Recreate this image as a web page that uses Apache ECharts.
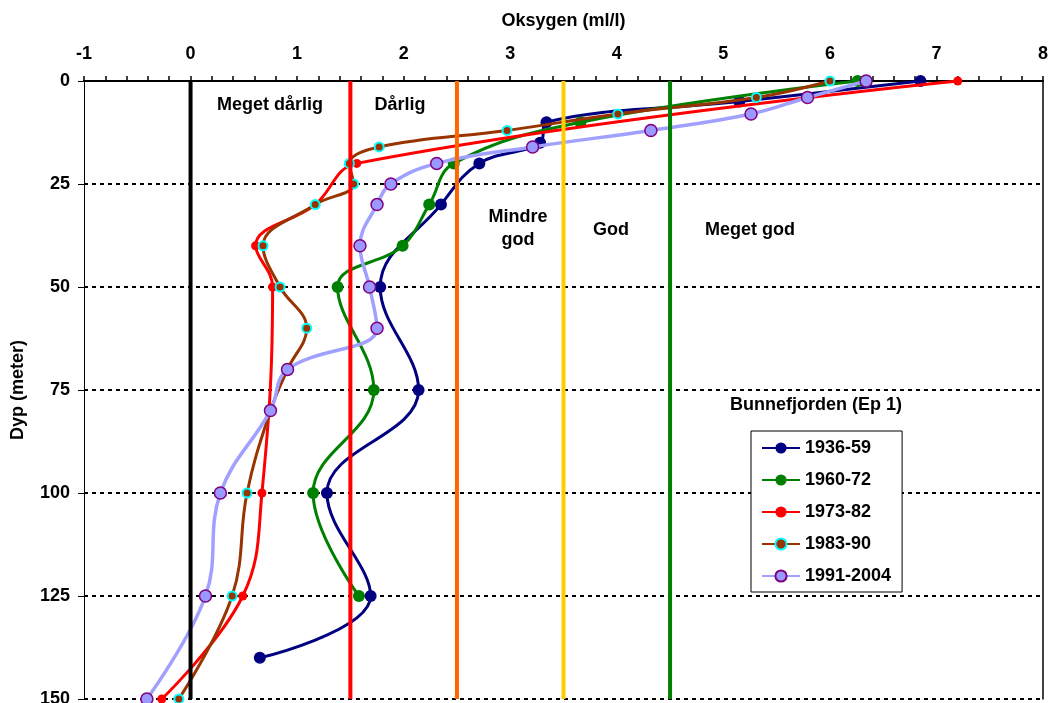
<!DOCTYPE html>
<html>
<head>
<meta charset="utf-8">
<script src="https://cdn.jsdelivr.net/npm/echarts@6/dist/echarts.min.js"></script>
<style>
html,body{margin:0;padding:0;background:#fff;}
#chart{width:1059px;height:703px;}
</style>
</head>
<body>
<div id="chart"></div>
<script>
// ---- data ----
const seriesNames = ['1936-59', '1960-72', '1973-82', '1983-90', '1991-2004'];

const depth1936 = [0, 5, 10, 15, 20, 30, 50, 75, 100, 125, 140];
const oxy1936   = [6.85, 5.15, 3.34, 3.28, 2.71, 2.35, 1.78, 2.14, 1.28, 1.69, 0.65];

const depth1960 = [0, 10, 20, 30, 40, 50, 75, 100, 125];
const oxy1960   = [6.26, 3.66, 2.47, 2.24, 1.99, 1.38, 1.72, 1.15, 1.58];

const depth1973 = [0, 20, 30, 40, 50, 100, 125, 150];
const oxy1973   = [7.2, 1.56, 1.17, 0.61, 0.77, 0.67, 0.49, -0.27];

const depth1983 = [0, 4, 8, 12, 16, 20, 25, 30, 40, 50, 60, 70, 80, 100, 125, 150];
const oxy1983   = [6.0, 5.31, 4.01, 2.97, 1.77, 1.49, 1.53, 1.17, 0.68, 0.84, 1.09, 0.91, 0.75, 0.53, 0.39, -0.11];

const depth1991 = [0, 4, 8, 12, 16, 20, 25, 30, 40, 50, 60, 70, 80, 100, 125, 150];
const oxy1991   = [6.34, 5.79, 5.26, 4.32, 3.21, 2.31, 1.88, 1.75, 1.59, 1.68, 1.75, 0.91, 0.75, 0.28, 0.14, -0.41];

// class boundaries (vertical lines)
const thresholds = [0, 1.5, 2.5, 3.5, 4.5];
const thresholdColors = ['#000000', '#FF0000', '#FF6600', '#FFCC00', '#008000'];
const depthRange = [0, 150];

const xTicks = { min: -1, max: 8, interval: 1 };
const yTicks = { min: 0, max: 150, interval: 25 };

// ---- build ----
const FONT = "'Liberation Sans', Arial, sans-serif";
function pairs(xs, ds) { return xs.map((v, i) => [v, ds[i]]); }

const styles = [
  { color: '#000080', size: 12, border: '#000080', bw: 0, lw: 3 },
  { color: '#008000', size: 12, border: '#008000', bw: 0, lw: 3 },
  { color: '#FF0000', size: 9, border: '#FF0000', bw: 0, lw: 3 },
  { color: '#993300', size: 9, border: '#00FFFF', bw: 2, lw: 3 },
  { color: '#9999FF', size: 12, border: '#800080', bw: 1.5, lw: 3.5, line: '#A0A0FF' }
];
const allData = [
  pairs(oxy1936, depth1936),
  pairs(oxy1960, depth1960),
  pairs(oxy1973, depth1973),
  pairs(oxy1983, depth1983),
  pairs(oxy1991, depth1991)
];

const dataSeries = seriesNames.map((name, i) => ({
  name: name,
  type: 'line',
  data: allData[i],
  smooth: 0.4,
  symbol: 'circle',
  symbolSize: styles[i].size,
  showAllSymbol: true,
  z: 3 + i,
  lineStyle: { color: styles[i].line || styles[i].color, width: styles[i].lw },
  itemStyle: { color: styles[i].color, borderColor: styles[i].border, borderWidth: styles[i].bw, opacity: 1 },
  emphasis: { disabled: true },
  animation: false
}));

const thresholdSeries = thresholds.map((t, i) => ({
  name: 'grense' + i,
  type: 'line',
  data: depthRange.map(d => [t, d]),
  symbol: 'none',
  silent: true,
  z: 20,
  lineStyle: { color: thresholdColors[i], width: 4 },
  animation: false
}));

const labelStyle = { fontFamily: FONT, fontWeight: 'bold', fontSize: 18, fill: '#000', align: 'center', verticalAlign: 'middle' };
function txt(text, x, y) {
  return { type: 'text', x: x, y: y, z: 50, style: Object.assign({ text: text }, labelStyle, { lineHeight: 23 }) };
}

const chart = echarts.init(document.getElementById('chart'), null, { renderer: 'canvas' });
chart.setOption({
  backgroundColor: '#ffffff',
  animation: false,
  grid: { left: 84, right: 16, top: 81, bottom: 4, containLabel: false, outerBoundsMode: 'none' },
  xAxis: {
    type: 'value',
    position: 'top',
    min: xTicks.min, max: xTicks.max, interval: xTicks.interval,
    name: 'Oksygen (ml/l)',
    nameLocation: 'middle',
    nameGap: 51,
    nameTextStyle: { fontFamily: FONT, fontWeight: 'bold', fontSize: 18, color: '#000' },
    axisLine: { show: true, onZero: false, lineStyle: { color: '#000', width: 2 } },
    axisTick: { show: true, inside: false, length: 5, lineStyle: { color: '#000', width: 1.5 } },
    minorTick: { show: true, splitNumber: 5, length: 5, lineStyle: { color: '#000', width: 1.5 } },
    axisLabel: { fontFamily: FONT, fontWeight: 'bold', fontSize: 18, color: '#000', margin: 18 },
    splitLine: { show: false }
  },
  yAxis: [{
    type: 'value',
    inverse: true,
    min: yTicks.min, max: yTicks.max, interval: yTicks.interval,
    name: 'Dyp (meter)',
    nameLocation: 'middle',
    nameGap: 57,
    nameRotate: 90,
    nameTextStyle: { fontFamily: FONT, fontWeight: 'bold', fontSize: 18, color: '#000' },
    axisLine: { show: true, onZero: false, lineStyle: { color: '#000', width: 1 } },
    axisTick: { show: true, length: 6, lineStyle: { color: '#000', width: 1 } },
    axisLabel: { fontFamily: FONT, fontWeight: 'bold', fontSize: 18, color: '#000', margin: 14 },
    splitLine: { show: true, lineStyle: { color: '#000', width: 2, type: [4, 4] } }
  }, {
    type: 'value',
    position: 'right',
    inverse: true,
    min: yTicks.min, max: yTicks.max,
    axisLine: { show: true, onZero: false, lineStyle: { color: '#000', width: 1.5 } },
    axisTick: { show: false },
    axisLabel: { show: false },
    splitLine: { show: false }
  }],
  legend: {
    data: seriesNames,
    orient: 'vertical',
    left: 751,
    top: 431,
    padding: [8, 11, 7, 10],
    itemGap: 14,
    itemWidth: 38,
    itemHeight: 14,
    backgroundColor: '#ffffff',
    borderColor: '#000000',
    borderWidth: 1,
    borderRadius: 0,
    selectedMode: false,
    textStyle: { fontFamily: FONT, fontWeight: 'bold', fontSize: 18, color: '#000' }
  },
  graphic: [
    txt('Meget dårlig', 270, 105),
    txt('Dårlig', 400, 105),
    txt('Mindre\ngod', 518, 229),
    txt('God', 611, 230),
    txt('Meget god', 750, 230),
    txt('Bunnefjorden (Ep 1)', 816, 405)
  ],
  series: dataSeries.concat(thresholdSeries)
});
</script>
</body>
</html>
